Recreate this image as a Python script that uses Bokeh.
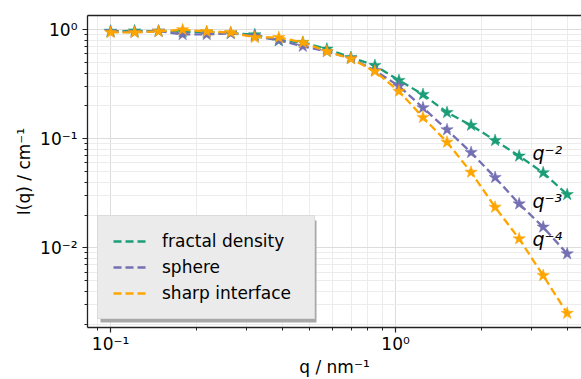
import math
from bokeh.plotting import figure
from bokeh.models import (FixedTicker, CustomJSTickFormatter, LogAxis, Legend, LegendItem,
                          BoxAnnotation, Range1d, ColumnDataSource)
from bokeh.embed import file_html
from bokeh.resources import INLINE
from bokeh.core.properties import value

# ---- data ----
q = [0.1, 0.1214, 0.1474, 0.1790, 0.2174, 0.2640, 0.3206, 0.3893, 0.4727, 0.5740,
     0.6968, 0.8462, 1.0276, 1.2478, 1.5152, 1.8400, 2.2343, 2.7132, 3.2946, 4.0]
fractal = [0.97, 0.975, 0.97, 0.96, 0.95, 0.93, 0.90, 0.793, 0.765, 0.665,
           0.557, 0.470, 0.343, 0.255, 0.174, 0.133, 0.0965, 0.0695, 0.0488, 0.0308]
sphere = [0.96, 0.95, 0.97, 0.905, 0.905, 0.925, 0.875, 0.80, 0.705, 0.632,
          0.545, 0.423, 0.304, 0.1925, 0.121, 0.0749, 0.0442, 0.0253, 0.0155, 0.00881]
sharp = [0.944, 0.944, 0.965, 1.0, 0.962, 0.944, 0.850, 0.850, 0.765, 0.632,
         0.542, 0.415, 0.273, 0.157, 0.0931, 0.0494, 0.0236, 0.0121, 0.00557, 0.00251]
series_names = ["fractal density", "sphere", "sharp interface"]
series_colors = ["#1b9e77", "#7570b3", "#ffa500"]

ann_text = ["q\u207b\u00b2", "q\u207b\u00b3", "q\u207b\u2074"]
ann_x = [3.02, 3.02, 3.02]
ann_y = [0.0733, 0.0266, 0.0121]

x_major = [0.1, 1.0]
y_major = [0.01, 0.1, 1.0]

# ---- geometry ----
W, H = 581, 379
FL, FT, FB = 87, 15, 327          # frame left / top / bottom in px
FR = W                            # frame right (clipped at window edge)
x0, x1 = 0.083, 4.49
y0, y1 = 0.00186, 1.35

def minors(lo_exp, hi_exp):
    return [m * 10.0 ** e for e in range(lo_exp, hi_exp + 1) for m in range(2, 10)]

x_minor = [0.09] + minors(-1, 0)
y_minor = minors(-3, 0)

p = figure(width=W, height=H, x_axis_type="log", y_axis_type="log",
           x_range=Range1d(x0, x1), y_range=Range1d(y0, y1),
           output_backend="svg", toolbar_location=None,
           min_border_left=FL, min_border_top=FT, min_border_bottom=H - FB,
           min_border_right=0)
p.outline_line_color = None
p.background_fill_color = "white"
p.border_fill_color = "white"

fmt = CustomJSTickFormatter(code="""
const e = Math.round(Math.log10(tick));
const m = {"-":"\u207b","0":"\u2070","1":"\u00b9","2":"\u00b2","3":"\u00b3","4":"\u2074",
           "5":"\u2075","6":"\u2076","7":"\u2077","8":"\u2078","9":"\u2079"};
return "10" + String(e).split("").map(c => m[c]).join("");
""")

for ax, major, minor in ((p.xaxis[0], x_major, x_minor), (p.yaxis[0], y_major, y_minor)):
    ax.ticker = FixedTicker(ticks=major, minor_ticks=minor)
    ax.formatter = fmt
    ax.major_label_text_font = "DejaVu Sans"
    ax.major_label_text_font_size = "17px"
    ax.major_label_text_color = "black"
    ax.axis_label_text_font = "DejaVu Sans"
    ax.axis_label_text_font_size = "17px"
    ax.axis_label_text_font_style = "normal"
    ax.axis_label_text_color = "black"
    ax.axis_line_color = "#222222"
    ax.axis_line_width = 1.3
    ax.major_tick_line_color = "#222222"
    ax.minor_tick_line_color = "#222222"
    ax.major_tick_line_width = 1.2
    ax.minor_tick_line_width = 1.0
    ax.major_tick_out = 5
    ax.major_tick_in = 0
    ax.minor_tick_out = 3
    ax.minor_tick_in = 0

p.xaxis.axis_label = "q / nm\u207b\u00b9"
p.yaxis.axis_label = "I(q) / cm\u207b\u00b9"
p.xaxis.major_label_standoff = 1
p.xaxis.axis_label_standoff = 0
p.yaxis.major_label_standoff = 5
p.yaxis.axis_label_standoff = 3

top = LogAxis(ticker=FixedTicker(ticks=[]), major_tick_line_color=None,
              minor_tick_line_color=None, major_label_text_font_size="0px",
              axis_line_color="#222222", axis_line_width=1.3)
p.add_layout(top, "above")

for g in (p.xgrid[0], p.ygrid[0]):
    g.grid_line_color = "#dcdcdc"
    g.grid_line_width = 1
    g.minor_grid_line_color = "#ececec"
    g.minor_grid_line_width = 1

renderers = []
for ys, col in zip((fractal, sphere, sharp), series_colors):
    ln = p.line(q, ys, line_color=col, line_width=2.3, line_dash="8 4")
    p.scatter(q, ys, marker="star", size=13, fill_color=col, line_color=col, line_width=0.5)
    renderers.append(ln)

src = ColumnDataSource(dict(x=ann_x, y=ann_y, t=ann_text))
p.text(x="x", y="y", text="t", source=src, text_font=value("DejaVu Sans"),
       text_font_size="19px", text_font_style="italic", text_color="black",
       text_baseline="alphabetic", text_align="left")

# legend shadow (decoration), positioned in data units from pixel geometry
def xd(px):
    return 10 ** (math.log10(x0) + (px - FL) / (FR - FL) * (math.log10(x1) - math.log10(x0)))

def yd(py):
    return 10 ** (math.log10(y0) + (FB - py) / (FB - FT) * (math.log10(y1) - math.log10(y0)))

LX, LB, LW, LH = 10, 8, 216, 102
sh = 3
shadow = BoxAnnotation(left=xd(FL + LX + sh), right=xd(FL + LX + LW + sh),
                       bottom=yd(FB - LB + sh), top=yd(FB - LB - LH + sh),
                       fill_color="#a8a8a8", fill_alpha=1.0, line_color=None)
p.add_layout(shadow)

legend = Legend(items=[LegendItem(label=n, renderers=[r]) for n, r in zip(series_names, renderers)],
                location=(LX, LB), margin=0, padding=15, spacing=6,
                glyph_width=34, glyph_height=20, label_height=20, label_width=137,
                label_standoff=15, label_text_font="DejaVu Sans", label_text_font_size="17px",
                label_text_color="black", background_fill_color="#ebebeb", background_fill_alpha=1.0,
                border_line_color="#cccccc", border_line_width=1)
p.add_layout(legend)

open("out.html", "w").write(file_html(p, INLINE))
